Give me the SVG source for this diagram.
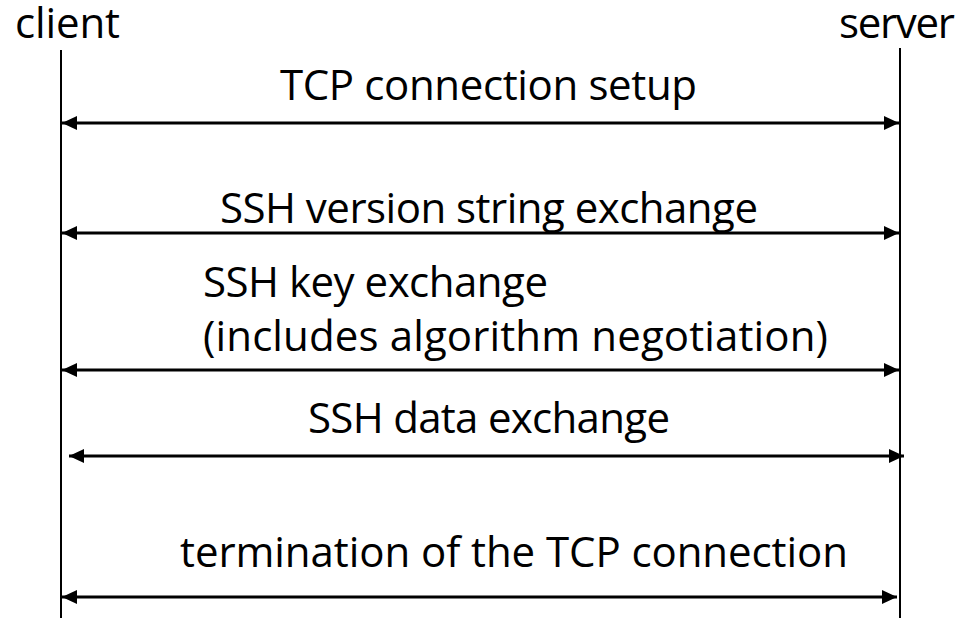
<svg xmlns="http://www.w3.org/2000/svg" width="963" height="618" viewBox="0 0 963 618">
<style>
text{font-family:"Open Sans","Liberation Sans",sans-serif;font-size:42px;fill:#000}
.life{stroke:#000;stroke-width:2;fill:none}
.msg{stroke:#000;stroke-width:3;fill:none;marker-start:url(#ah);marker-end:url(#ah)}
</style>
<defs>
<marker id="ah" markerUnits="userSpaceOnUse" markerWidth="16" markerHeight="14" refX="15" refY="7" orient="auto-start-reverse" viewBox="0 0 16 14">
<path d="M0,0 L15,7 L0,14 z" fill="#000"/>
</marker>
</defs>
<rect width="963" height="618" fill="#fff"/>
<g id="client">
<text x="15" y="38" textLength="105" lengthAdjust="spacing">client</text>
<line class="life" x1="61" y1="50" x2="61" y2="618"/>
</g>
<g id="server">
<text x="839" y="38" textLength="116" lengthAdjust="spacing">server</text>
<line class="life" x1="900" y1="48" x2="900" y2="618"/>
</g>
<g id="connectors">
<line class="msg" x1="62" y1="123" x2="899" y2="123"/>
<line class="msg" x1="62" y1="233" x2="899" y2="233"/>
<line class="msg" x1="62" y1="370" x2="899" y2="370"/>
<line class="msg" x1="69" y1="456" x2="904" y2="456"/>
<line class="msg" x1="62" y1="597" x2="897" y2="597"/>
</g>
<g id="labels">
<text x="280" y="100" textLength="417" lengthAdjust="spacing">TCP connection setup</text>
<text x="220" y="223" textLength="538" lengthAdjust="spacing">SSH version string exchange</text>
<text x="203" y="297" textLength="345" lengthAdjust="spacing">SSH key exchange</text>
<text x="203" y="351" textLength="625" lengthAdjust="spacing">(includes algorithm negotiation)</text>
<text x="308" y="433" textLength="362" lengthAdjust="spacing">SSH data exchange</text>
<text x="180" y="567" textLength="668" lengthAdjust="spacing">termination of the TCP connection</text>
</g>
</svg>
